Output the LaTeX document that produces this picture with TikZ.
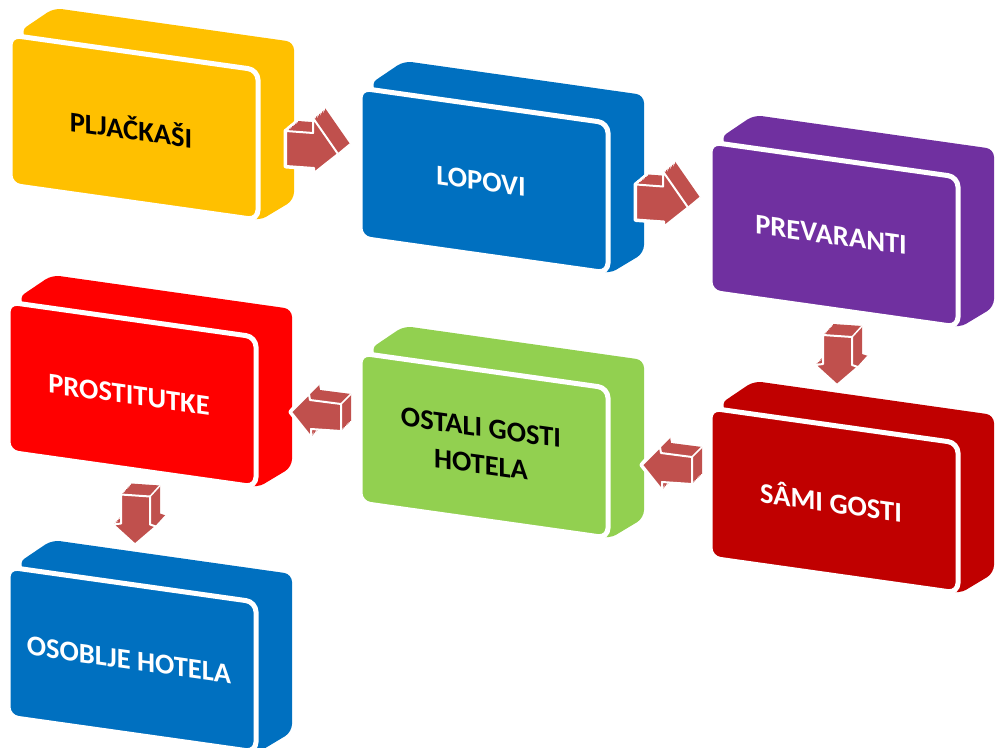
\documentclass[tikz,border=0pt]{standalone}
\usepackage{fontspec}
\setmainfont{Carlito}
\usetikzlibrary{calc}
\definecolor{BoxYellow}{HTML}{FFC000}
\definecolor{BoxBlue}{HTML}{0070C0}
\definecolor{BoxPurple}{HTML}{7030A0}
\definecolor{BoxRed}{HTML}{FF0000}
\definecolor{BoxGreen}{HTML}{92D050}
\definecolor{BoxDarkRed}{HTML}{C00000}
\definecolor{ArrowRed}{HTML}{C0504D}

\begin{document}
\begin{tikzpicture}[x=1pt,y=-1pt,
    boxbody/.style={rounded corners=8pt},
    boxfront/.style={draw=white, line width=5pt, rounded corners=10pt},
    boxtext/.style={font=\fontsize{28.5}{37}\selectfont\bfseries, align=center,
        inner sep=0pt, transform shape},
    arhalo/.style={draw=white, line width=5pt, line join=round},
    arfront/.style={fill=ArrowRed, draw=white, line width=2pt, line join=round},
    aredge/.style={draw=white, line width=1.5pt},
  ]
  \useasboundingbox (0,0) rectangle (995,747);

  % Boxes
  \foreach \nm/\bx/\by/\col/\tcol/\txt in {
      plj/10/35/BoxYellow/black/PLJAČKAŠI,
      lop/360/88/BoxBlue/white/LOPOVI,
      prev/710/142/BoxPurple/white/PREVARANTI,
      prost/8/302/BoxRed/white/PROSTITUTKE,
      ostali/360/353/BoxGreen/black/OSTALI GOSTI\\HOTELA,
      sami/710/408/BoxDarkRed/white/SÂMI GOSTI,
      osob/8/567/BoxBlue/white/OSOBLJE HOTELA}{
    \begin{scope}[shift={(\bx,\by)}]
      \coordinate (\nm-tl) at (0,0);
      \fill[boxbody,\col] (10,-4) -- (44,-27) -- (284,7) -- (284,165)
        -- (249,186) -- (150,150) -- cycle;
      \filldraw[boxfront,fill=\col] (0,0) -- (248,35) -- (248,185) -- (0,150) -- cycle;
      \begin{scope}[shift={(121,93)},yslant=-0.14]
        \node[boxtext,text=\tcol] (\nm) at (0,0) {\txt};
      \end{scope}
    \end{scope}
  }

  % Arrows to the right
  \foreach \a/\b in {plj/lop,lop/prev}{
    \begin{scope}[shift={($(\a-tl)!0.5!(\b-tl)+(101,69.5)$)}]
      \foreach \t in {0,0.125,...,1}
        \draw[arhalo,shift={(12*\t,-10*\t)}] (0,0) -- (27,2) -- (27,-13) -- (52,23)
          -- (28,42) -- (28,37) -- (0,35) -- cycle;
      \foreach \t in {0,0.125,...,1}
        \fill[ArrowRed,shift={(12*\t,-10*\t)}] (0,0) -- (27,2) -- (27,-13) -- (52,23)
          -- (28,42) -- (28,37) -- (0,35) -- cycle;
      \draw[aredge] (27,-13) -- ++(12,-10) (52,23) -- ++(12,-10);
      \filldraw[arfront] (0,0) -- (27,2) -- (27,-13) -- (52,23)
        -- (28,42) -- (28,37) -- (0,35) -- cycle;
    \end{scope}
  }

  % Arrows down
  \foreach \a/\b in {prev/sami,prost/osob}{
    \begin{scope}[shift={($(\a-tl)!0.5!(\b-tl)+(113,60)$)}]
      \foreach \t in {0,0.125,...,1}
        \draw[arhalo,shift={(10*\t,-11*\t)}] (0,0) -- (29,2) -- (29,30) -- (35,32)
          -- (14,50) -- (-8,30) -- (0,29) -- cycle;
      \foreach \t in {0,0.125,...,1}
        \fill[ArrowRed,shift={(10*\t,-11*\t)}] (0,0) -- (29,2) -- (29,30) -- (35,32)
          -- (14,50) -- (-8,30) -- (0,29) -- cycle;
      \draw[aredge] (29,2) -- ++(10,-11) (35,32) -- ++(10,-11);
      \filldraw[arfront] (0,0) -- (29,2) -- (29,30) -- (35,32)
        -- (14,50) -- (-8,30) -- (0,29) -- cycle;
    \end{scope}
  }

  % Arrows to the left
  \foreach \a/\b in {sami/ostali,ostali/prost}{
    \begin{scope}[shift={($(\a-tl)!0.5!(\b-tl)+(107,84.5)$)}]
      \foreach \t in {0,0.125,...,1}
        \draw[arhalo,shift={(10*\t,-10*\t)}] (0,0) -- (18,-18) -- (19,-12) -- (50,-8)
          -- (50,19) -- (20,17) -- (20,25) -- cycle;
      \foreach \t in {0,0.125,...,1}
        \fill[ArrowRed,shift={(10*\t,-10*\t)}] (0,0) -- (18,-18) -- (19,-12) -- (50,-8)
          -- (50,19) -- (20,17) -- (20,25) -- cycle;
      \draw[aredge] (50,-8) -- ++(10,-10) (18,-18) -- ++(10,-10);
      \filldraw[arfront] (0,0) -- (18,-18) -- (19,-12) -- (50,-8)
        -- (50,19) -- (20,17) -- (20,25) -- cycle;
    \end{scope}
  }
\end{tikzpicture}
\end{document}
